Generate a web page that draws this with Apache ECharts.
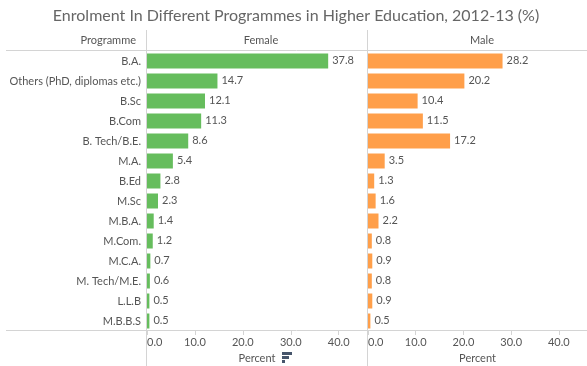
<!DOCTYPE html>
<html>
<head>
<meta charset="utf-8">
<style>html,body{margin:0;padding:0;background:#fff}#main{width:587px;height:366px}</style>
<script src="https://cdn.jsdelivr.net/npm/echarts@6/dist/echarts.min.js"></script>
</head>
<body>
<div id="main"></div>
<script>
var programmes = ['B.A.', 'Others (PhD, diplomas etc.)', 'B.Sc', 'B.Com', 'B. Tech/B.E.', 'M.A.', 'B.Ed', 'M.Sc', 'M.B.A.', 'M.Com.', 'M.C.A.', 'M. Tech/M.E.', 'L.L.B', 'M.B.B.S'];
var female = [37.8, 14.7, 12.1, 11.3, 8.6, 5.4, 2.8, 2.3, 1.4, 1.2, 0.7, 0.6, 0.5, 0.5];
var male = [28.2, 20.2, 10.4, 11.5, 17.2, 3.5, 1.3, 1.6, 2.2, 0.8, 0.9, 0.8, 0.9, 0.5];

var font = 'Lato, sans-serif';
var textColor = '#555';
var lineColor = '#d4d4d4';
var fontSize = 11;

function valueAxis(idx) {
	return {
		type: 'value', gridIndex: idx, min: 0, max: 45.9, interval: 10,
		name: 'Percent', nameLocation: 'middle', nameGap: 21,
		nameTextStyle: { color: textColor, fontFamily: font, fontSize: fontSize },
		axisLine: { show: false },
		axisTick: { show: true, length: 4, lineStyle: { color: lineColor } },
		splitLine: { show: false },
		axisLabel: {
			color: textColor, fontFamily: font, fontSize: fontSize, margin: 6,
			showMaxLabel: false, alignMinLabel: 'left',
			formatter: function (v) { return v.toFixed(1); }
		}
	};
}

function catAxis(idx, showLabels) {
	return {
		type: 'category', gridIndex: idx, data: programmes, inverse: true,
		axisLine: { show: false }, axisTick: { show: false },
		axisLabel: { show: showLabels, color: textColor, fontFamily: font, fontSize: fontSize, margin: 6, padding: [0, 0, 2, 0] }
	};
}

function barSeries(name, idx, data, color) {
	return {
		name: name, type: 'bar', xAxisIndex: idx, yAxisIndex: idx, data: data, barWidth: 15,
		itemStyle: { color: color },
		label: { show: true, position: 'right', distance: 4, offset: [0, -1], color: textColor, fontFamily: font, fontSize: fontSize,
			formatter: function (p) { return p.value.toFixed(1); } }
	};
}

function hline(y) {
	return { type: 'line', shape: { x1: 6, y1: y, x2: 587, y2: y }, style: { stroke: lineColor, lineWidth: 1 }, z: 10 };
}
function vline(x) {
	return { type: 'line', shape: { x1: x, y1: 30, x2: x, y2: 366 }, style: { stroke: lineColor, lineWidth: 1 }, z: 10 };
}
function sortBar(y, w) {
	return { type: 'rect', shape: { x: 282, y: y, width: w, height: 3 }, style: { fill: '#46556b' } };
}

var myChart = echarts.init(document.getElementById('main'));
var headStyle = { color: textColor, fontFamily: font, fontSize: fontSize, fontWeight: 'normal' };
var option = {
	animation: false,
	title: [
		{ text: 'Enrolment In Different Programmes in Higher Education, 2012-13 (%)', left: 291, textAlign: 'center', top: 3,
			textStyle: { color: '#666', fontFamily: font, fontSize: 16, fontWeight: 'normal' } },
		{ text: 'Programme', right: 446, top: 30, textStyle: headStyle },
		{ text: 'Female', left: 256, textAlign: 'center', top: 30, textStyle: headStyle },
		{ text: 'Male', left: 477, textAlign: 'center', top: 30, textStyle: headStyle }
	],
	grid: [
		{ left: 147, top: 51, width: 220, height: 280, outerBoundsMode: 'none' },
		{ left: 368, top: 51, width: 219, height: 280, outerBoundsMode: 'none' }
	],
	xAxis: [valueAxis(0), valueAxis(1)],
	yAxis: [catAxis(0, true), catAxis(1, false)],
	series: [barSeries('Female', 0, female, '#66bd5d'), barSeries('Male', 1, male, '#ff9f4a')],
	graphic: [
		hline(50.5), hline(330.5), vline(146.5), vline(367.5),
		sortBar(352, 10), sortBar(356, 7), sortBar(360, 3)
	]
};
myChart.setOption(option);
</script>
</body>
</html>
